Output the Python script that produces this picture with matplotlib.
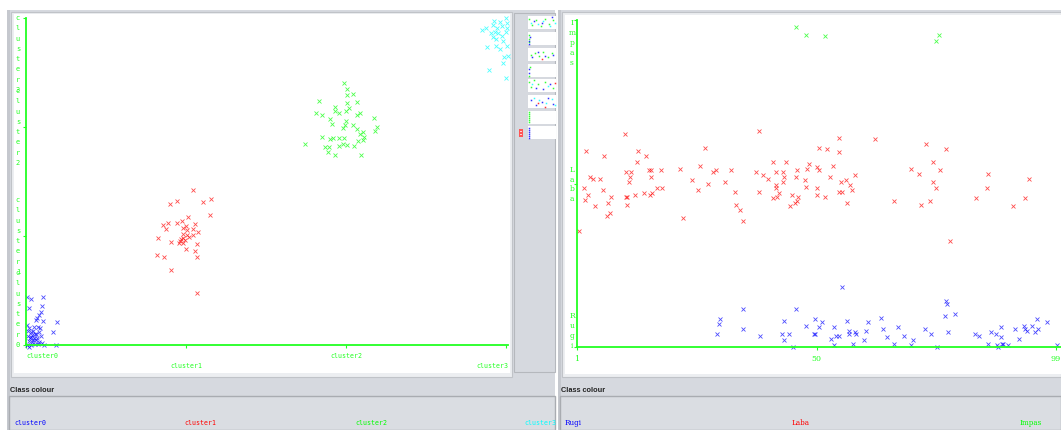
import matplotlib
matplotlib.use("Agg")
import matplotlib.pyplot as plt
from matplotlib.patches import Rectangle

# ---- left plot: cluster (x) vs cluster (y), jittered
left_cats = ["cluster0", "cluster1", "cluster2", "cluster3"]
left_cols = ["#0000ff", "#ff0000", "#00ff00", "#00ffff"]

c0_x = [0.008,0.033,0.108,0.019,0.100,0.092,0.081,0.071,0.060,0.108,0.192,0.008,0.019,0.050,0.075,0.088,0.013,0.029,0.046,0.060,0.081,0.171,0.013,0.033,0.050,0.071,0.092,0.019,0.040,0.060,0.081,0.102,0.008,0.033,0.054,0.075,0.113,0.185,0.019,0.040,0.054,0.025,0.046]
c0_y = [0.443,0.419,0.437,0.336,0.361,0.306,0.275,0.251,0.229,0.220,0.208,0.183,0.159,0.168,0.168,0.159,0.128,0.116,0.128,0.098,0.122,0.116,0.085,0.076,0.061,0.067,0.085,0.037,0.030,0.046,0.030,0.015,0.000,0.000,0.006,0.006,0.000,0.000,-0.015,0.092,0.104,0.061,0.046]
c1_x = [1.042,0.946,0.900,1.108,1.158,1.015,1.150,0.973,0.946,0.890,0.854,0.875,1.000,1.056,0.979,1.004,1.046,1.077,0.979,1.004,1.042,0.827,0.967,1.021,0.994,0.904,0.958,0.979,1.067,1.000,1.056,0.817,0.863,1.071,0.904,1.071,0.960,0.980]
c1_y = [1.422,1.324,1.294,1.315,1.337,1.171,1.193,1.141,1.122,1.116,1.101,1.061,1.092,1.110,1.070,1.055,1.061,1.040,1.018,1.009,1.009,0.979,0.970,0.988,0.963,0.948,0.933,0.933,0.927,0.878,0.865,0.826,0.805,0.805,0.688,0.480,0.950,0.980]
c2_x = [1.988,2.004,2.042,2.008,1.833,1.931,2.004,2.067,2.021,2.000,1.813,1.848,1.931,1.958,2.088,2.071,2.175,1.900,1.910,2.000,1.994,2.042,1.979,2.067,2.104,2.192,2.181,1.848,1.900,1.917,1.958,1.988,2.088,2.113,2.077,2.108,1.744,1.869,1.896,1.958,1.983,2.004,2.050,1.890,1.931,2.092]
c2_y = [2.401,2.346,2.303,2.294,2.241,2.186,2.223,2.229,2.171,2.150,2.131,2.110,2.150,2.126,2.131,2.110,2.085,2.071,2.028,2.058,2.018,2.018,1.988,1.979,1.954,1.997,1.966,1.905,1.887,1.896,1.896,1.896,1.936,1.911,1.874,1.881,1.844,1.819,1.819,1.826,1.844,1.835,1.828,1.768,1.743,1.743]
c3_x = [3.000,3.004,2.925,2.963,2.917,2.973,2.946,2.848,2.875,3.004,3.000,2.904,2.931,2.952,2.921,2.973,2.938,2.979,2.879,2.938,3.008,2.963,2.988,3.014,2.983,2.896,3.000]
c3_y = [2.997,2.957,2.975,2.966,2.936,2.927,2.905,2.890,2.905,2.905,2.874,2.865,2.874,2.860,2.829,2.835,2.805,2.792,2.737,2.743,2.743,2.713,2.645,2.651,2.584,2.523,2.447]

# ---- right plot: index (x) vs class Rugi / Laba / Impas (y), jittered
right_cats = ["Rugi", "Laba", "Impas"]
right_cols = ["#0000ff", "#ff0000", "#00ff00"]
right_xticks = [1, 50, 99]

rugi_x = [29.6,30.1,30.3,35.0,35.0,38.4,42.9,43.4,43.4,44.4,45.1,45.8,47.8,49.4,49.6,55.3,76.4,76.6,76.2,78.3,63.2,95.1,50.6,51.1,53.6,56.3,60.6,63.5,66.6,72.1,97.1,90.6,92.5,92.6,93.0,94.1,95.4,94.6,87.7,49.6,53.9,54.6,56.7,56.7,57.9,58.1,60.2,64.5,67.9,73.4,77.0,82.5,83.2,85.6,86.8,87.8,91.4,52.9,59.7,69.7,57.5,65.9,69.3,53.6,74.7,85.1,86.9,87.2,88.0,88.2,89.2,99.1]
rugi_y = [0.08,0.14,0.17,0.23,0.11,0.07,0.08,0.16,0.04,0.08,0.00,0.23,0.13,0.08,0.17,0.37,0.28,0.26,0.19,0.20,0.18,0.17,0.12,0.15,0.12,0.16,0.15,0.11,0.12,0.11,0.15,0.11,0.13,0.11,0.10,0.13,0.11,0.09,0.12,0.08,0.07,0.07,0.10,0.08,0.09,0.08,0.10,0.06,0.07,0.08,0.09,0.08,0.07,0.09,0.08,0.06,0.05,0.05,0.04,0.04,0.02,0.02,0.01,0.01,0.00,0.02,0.01,0.00,0.02,0.02,0.01,0.01]
laba_x = [10.8,38.2,27.2,2.8,6.5,13.5,15.1,13.3,43.8,41.0,48.5,26.2,22.0,15.7,16.1,18.2,32.6,46.1,48.0,11.0,12.1,28.9,29.4,37.6,41.7,43.1,3.7,4.2,5.8,11.9,16.1,39.1,40.0,43.4,45.8,24.5,11.6,27.9,31.2,43.2,47.6,41.7,47.9,2.5,6.3,17.4,18.3,25.7,41.7,33.3,38.3,3.3,8.0,11.0,11.2,12.9,14.7,15.9,16.4,42.3,44.9,46.2,2.6,41.0,41.9,7.4,46.0,45.7,11.3,4.7,33.5,44.6,34.4,7.8,7.1,22.7,35.0,1.4,54.5,61.9,50.6,52.2,54.7,72.3,76.4,50.0,50.5,53.4,73.8,69.4,71.0,75.3,57.9,52.8,85.1,93.4,55.1,56.0,73.9,56.9,57.3,50.2,74.5,84.8,54.5,55.2,50.0,51.7,82.7,92.7,56.3,65.9,71.4,73.2,90.3,77.3]
laba_y = [1.30,1.32,1.22,1.20,1.17,1.20,1.17,1.13,1.13,1.13,1.12,1.11,1.09,1.08,1.08,1.08,1.08,1.08,1.09,1.07,1.07,1.07,1.08,1.07,1.07,1.07,1.04,1.03,1.03,1.04,1.04,1.05,1.03,1.04,1.04,1.02,1.01,1.00,1.01,1.01,1.02,0.99,0.98,0.97,0.96,0.97,0.97,0.96,0.97,0.95,0.95,0.93,0.92,0.92,0.92,0.93,0.94,0.93,0.94,0.94,0.93,0.92,0.90,0.91,0.92,0.88,0.89,0.88,0.87,0.86,0.87,0.86,0.84,0.82,0.80,0.79,0.77,0.71,1.28,1.27,1.22,1.21,1.19,1.24,1.21,1.10,1.08,1.11,1.13,1.09,1.06,1.08,1.05,1.04,1.06,1.03,1.01,1.02,1.01,0.99,0.96,0.97,0.97,0.97,0.95,0.95,0.93,0.92,0.91,0.91,0.88,0.89,0.87,0.89,0.86,0.65]
impas_x = [45.9,47.8,51.7,75.1,74.5]
impas_y = [1.96,1.91,1.90,1.91,1.87]

# ---- small attribute thumbnails on the side bar (x, y in 0..1, colour letter)
thumbs = [
    ([0.05,0.15,0.3,0.45,0.6,0.75,0.9,0.1,0.35,0.55,0.8,0.95,0.2,0.5,0.85], [0.8,0.3,0.7,0.2,0.8,0.4,0.7,0.5,0.4,0.6,0.2,0.5,0.6,0.5,0.9], "gggggggcccccbbb"),
    ([0.03,0.05,0.04,0.06,0.05,0.03], [0.8,0.5,0.2,0.6,0.3,0.1], "gggbbb"),
    ([0.1,0.25,0.4,0.55,0.7,0.85,0.15,0.35,0.6,0.9,0.5], [0.5,0.6,0.4,0.7,0.3,0.6,0.3,0.7,0.4,0.5,0.15], "ggggggbbbbr"),
    ([0.05,0.04,0.06,0.03], [0.6,0.3,0.8,0.1], "bbgg"),
    ([0.05,0.2,0.35,0.1,0.6,0.9,0.3,0.55,0.8,0.15,0.7,0.95], [0.8,0.9,0.6,0.4,0.8,0.3,0.3,0.2,0.6,0.6,0.5,0.7], "ggggggbbbccr"),
    ([0.1,0.3,0.5,0.7,0.9,0.2,0.4,0.65,0.85,0.95,0.35,0.6], [0.6,0.2,0.5,0.8,0.3,0.8,0.6,0.4,0.7,0.2,0.4,0.1], "bbbbbcccccrr"),
    ([0.04,0.05,0.04,0.05,0.04,0.05], [0.15,0.3,0.45,0.6,0.75,0.9], "gggggg"),
    ([0.04,0.05,0.04,0.05,0.04,0.05], [0.1,0.25,0.4,0.55,0.7,0.85], "bbbbbb"),
]
thumb_tops = [16, 32, 48, 64, 79, 95, 111, 126]

W, H = 1061, 430
GREY = "#d6d9df"
AXG = "#22ff22"
MONO = "DejaVu Sans Mono"


def frac(x0, y0, x1, y1):
    return [x0 / W, 1 - y1 / H, (x1 - x0) / W, (y1 - y0) / H]


def box(x0, y0, x1, y1, fc, ec="none", lw=0, z=-10):
    fig.add_artist(Rectangle((x0 / W, 1 - y1 / H), (x1 - x0) / W, (y1 - y0) / H,
                             transform=fig.transFigure, facecolor=fc, edgecolor=ec, lw=lw,
                             zorder=z))


def ftext(x, y, s, **kw):
    fig.text(x / W, 1 - y / H, s, **kw)


def vlabel(ax, s, x, y, dx, align, step, **kw):
    n = len(s)
    for i, ch in enumerate(s):
        if align == "top":
            dy = -i * step
        elif align == "bottom":
            dy = (n - 1 - i) * step
        else:
            dy = ((n - 1) / 2 - i) * step
        ax.annotate(ch, (x, y), xytext=(dx, dy), textcoords="offset pixels",
                    ha="center", va="center", color=AXG, annotation_clip=False, **kw)


def style_axes(ax, x0, y0):
    for side in ["top", "right"]:
        ax.spines[side].set_visible(False)
    ax.spines["left"].set_position(("data", x0))
    ax.spines["bottom"].set_position(("data", y0))
    for side in ["left", "bottom"]:
        ax.spines[side].set_color(AXG)
        ax.spines[side].set_linewidth(1.3)
    ax.tick_params(colors=AXG, length=2.2, width=0.8, labelbottom=False, labelleft=False)


fig = plt.figure(figsize=(W / 100, H / 100), dpi=100, facecolor="white")

# window frames
box(7, 10, 555, 430, GREY)
box(7, 10, 10, 430, "#c5c8ce")
box(558, 10, 1061, 430, GREY)
box(558, 10, 561, 430, "#c5c8ce")
box(11, 12, 512, 377, "#eceef1", ec="#c0c3c8", lw=0.8)
box(562, 12, 1061, 377, "#eceef1", ec="#c0c3c8", lw=0.8)
box(514, 13, 555, 372, GREY, ec="#b5b8bd", lw=0.8)

# ---- left scatter
axL = fig.add_axes(frac(14, 14, 510, 373))
axL.set_xlim((14 - 26) / 160, (510 - 26) / 160)
axL.set_ylim((345 - 373) / 109, (345 - 14) / 109)
for xs, ys, col in zip([c0_x, c1_x, c2_x, c3_x], [c0_y, c1_y, c2_y, c3_y], left_cols):
    axL.plot(xs, ys, ls="none", marker="x", ms=3, mew=0.6, color=col, alpha=0.7)
style_axes(axL, 0, 0)
axL.spines["left"].set_bounds(0, 3)
axL.spines["bottom"].set_bounds(0, 3.01)
axL.set_xticks(range(4))
axL.set_yticks(range(4))

x_align = ["left", "center", "center", "right"]
x_dy = [-11, -21, -11, -21]
y_align = ["bottom", "center", "center", "top"]
for i, name in enumerate(left_cats):
    axL.annotate(name, (i, 0), xytext=(0 if i < 3 else 2, x_dy[i]), textcoords="offset pixels",
                 ha=x_align[i], va="center", color=AXG, fontsize=4.8, family=MONO,
                 annotation_clip=False)
    vlabel(axL, name, 0, i, -8, y_align[i], 10.3, fontsize=5, family=MONO)

# side thumbnails
cmap = {"g": "#00ff00", "b": "#0000ff", "c": "#00ffff", "r": "#ff0000"}
for top, (tx, ty, tc) in zip(thumb_tops, thumbs):
    axT = fig.add_axes(frac(528, top, 556, top + 13))
    axT.set_facecolor("white")
    for x, y, c in zip(tx, ty, tc):
        axT.plot(x, y, ls="none", marker="s", ms=1.1, mew=0, color=cmap[c], alpha=0.8)
    axT.set_xlim(0, 1)
    axT.set_ylim(0, 1)
    axT.set_xticks([])
    axT.set_yticks([])
    for sp in axT.spines.values():
        sp.set_visible(False)
box(519, 129, 523, 137, "#ff5555", z=5)
box(520, 131, 522, 132, "#ffd0d0", z=6)
box(520, 134, 522, 135, "#ffd0d0", z=6)

# ---- right scatter
axR = fig.add_axes(frac(565, 15, 1061, 374))
axR.set_xlim(1 + (565 - 577) / 4.888, 1 + (1061 - 577) / 4.888)
axR.set_ylim((347 - 374) / 163.5, (347 - 15) / 163.5)
for xs, ys, col in zip([rugi_x, laba_x, impas_x], [rugi_y, laba_y, impas_y], right_cols):
    axR.plot(xs, ys, ls="none", marker="x", ms=3, mew=0.6, color=col, alpha=0.7)
style_axes(axR, 1, 0)
axR.spines["left"].set_bounds(0, 2)
axR.spines["bottom"].set_bounds(1, 110)
axR.set_xticks(right_xticks)
axR.set_yticks(range(3))
for v in right_xticks:
    axR.annotate(str(v), (v, 0), xytext=(0, -12), textcoords="offset pixels",
                 ha="center", va="center", color=AXG, fontsize=5.8, family="DejaVu Serif",
                 annotation_clip=False)
r_align = ["bottom", "center", "top"]
r_shift = [1, -1, -3]
for i, name in enumerate(right_cats):
    vlabel(axR, name, 1, i + r_shift[i] / 163.5, -5, r_align[i], 9.9,
           fontsize=5.5, family="DejaVu Serif")

# ---- class colour legends
for x0, x1 in [(9, 555), (560, 1061)]:
    ftext(x0 + 1, 391, "Class colour", fontsize=5.3, color="#222222", weight="bold",
          family="Liberation Sans", va="center")
    box(x0, 396, x1, 430, "#dadde2", ec="#a9acb1", lw=1.0)

leg_x = [14, 184, 355, 524]
for x, name, col in zip(leg_x, left_cats, left_cols):
    ftext(x, 423, name, fontsize=4.8, family=MONO, color=col, va="center")
leg_xr = [565, 792, 1020]
for x, name, col in zip(leg_xr, right_cats, right_cols):
    ftext(x, 423, name, fontsize=5.2, family="DejaVu Serif", color=col, va="center")

fig.savefig("out.png", dpi=100, facecolor="white")
